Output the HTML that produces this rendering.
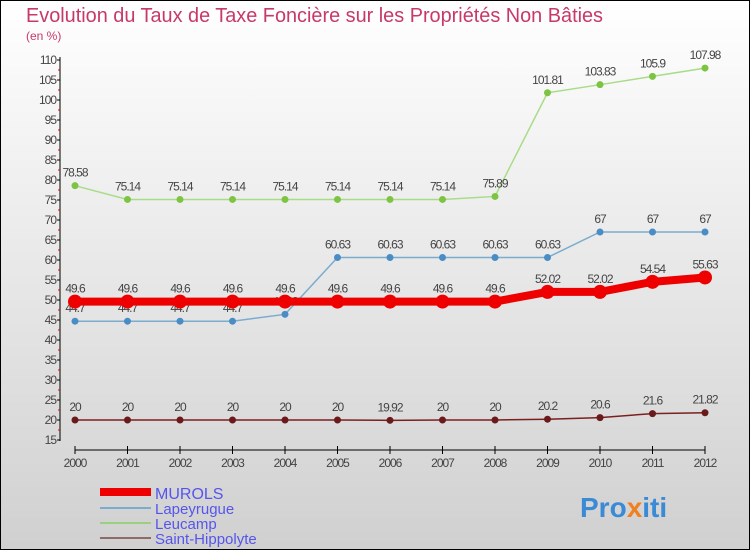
<!DOCTYPE html>
<html><head><meta charset="utf-8"><style>
body{margin:0}
svg{display:block;font-family:"Liberation Sans",sans-serif}
</style></head><body>
<svg id="c" width="750" height="550">
<defs><linearGradient id="bg" x1="0" y1="0" x2="0" y2="1"><stop offset="0" stop-color="#ffffff"/><stop offset="1" stop-color="#d0d0d0"/></linearGradient></defs>
<rect x="0.5" y="0.5" width="749" height="549" fill="url(#bg)" stroke="#000"/>
<text x="26" y="22" font-size="20" fill="#c8386a" textLength="577" lengthAdjust="spacingAndGlyphs">Evolution du Taux de Taxe Foncière sur les Propriétés Non Bâties</text>
<text x="26" y="40" font-size="12" fill="#c8386a">(en %)</text>
<g id="axes"></g><g id="series"></g>
<g>
<rect x="100" y="488" width="51" height="8" fill="#e00"/>
<text x="155" y="499" font-size="16" fill="#5555ee">MUROLS</text>
<line x1="100" y1="508" x2="151" y2="508" stroke="#7aaccf" stroke-width="2"/>
<text x="155" y="514" font-size="15" fill="#5555ee">Lapeyrugue</text>
<line x1="100" y1="523" x2="151" y2="523" stroke="#9dd07e" stroke-width="2"/>
<text x="155" y="529" font-size="15" fill="#5555ee">Leucamp</text>
<line x1="100" y1="538" x2="151" y2="538" stroke="#8e6a6a" stroke-width="2"/>
<text x="155" y="544" font-size="15" fill="#5555ee">Saint-Hippolyte</text>
</g>
<text x="580" y="517" font-size="28" font-weight="bold" fill="#3a8ad6">Pro<tspan fill="#f08020">x</tspan>iti</text>
</svg>
<script>
const years=["2000","2001","2002","2003","2004","2005","2006","2007","2008","2009","2010","2011","2012"];
const yTicks=[15,20,25,30,35,40,45,50,55,60,65,70,75,80,85,90,95,100,105,110];
const murols=[49.6,49.6,49.6,49.6,49.6,49.6,49.6,49.6,49.6,52.02,52.02,54.54,55.63];
const lapeyrugue=[44.7,44.7,44.7,44.7,46.42,60.63,60.63,60.63,60.63,60.63,67,67,67];
const leucamp=[78.58,75.14,75.14,75.14,75.14,75.14,75.14,75.14,75.89,101.81,103.83,105.9,107.98];
const saintHippolyte=[20,20,20,20,20,20,19.92,20,20,20.2,20.6,21.6,21.82];
const NS="http://www.w3.org/2000/svg";
const X=i=>75+i*52.5, Y=v=>300-(v-50)*4;
function mk(p,t,a){const e=document.createElementNS(NS,t);for(const k in a)e.setAttribute(k,a[k]);p.appendChild(e);return e;}
const ax=document.getElementById('axes'), se=document.getElementById('series');
let e=mk(ax,'line',{x1:60,y1:57,x2:60,y2:441,stroke:'#000'});


yTicks.forEach(v=>{
 let t=mk(ax,'line',{x1:57,x2:60,y1:Y(v),y2:Y(v),stroke:'#000'});
 
 
 if(v>yTicks[0]){
  let r=mk(ax,'line',{x1:58,x2:60,y1:Y(v)+10,y2:Y(v)+10,stroke:'#e00'});
  
  
 }
 let l=mk(ax,'text',{x:56,y:Y(v)+4,'font-size':12,fill:'#444','text-anchor':'end','letter-spacing':'-1'});
 l.textContent=v;
 
 
});
e=mk(ax,'line',{x1:75,y1:450,x2:705,y2:450,stroke:'#000'});


years.forEach((y,i)=>{
 let t=mk(ax,'line',{x1:X(i),x2:X(i),y1:446,y2:454,stroke:'#000'});
 
 
 let l=mk(ax,'text',{x:X(i),y:467,'font-size':12,fill:'#444','text-anchor':'middle','letter-spacing':'-1'});
 l.textContent=y;
 
 
});
function series(vals,name,line,dot,w,r){
 const g=mk(se,'g',{});
 
 
 const p=mk(g,'polyline',{points:vals.map((v,i)=>X(i)+','+Y(v)).join(' '),fill:'none',stroke:line,'stroke-width':w});
 
 
 vals.forEach((v,i)=>{
  const c=mk(g,'circle',{cx:X(i),cy:Y(v),r:r,fill:dot});
  
  
  const t=mk(g,'text',{x:X(i),y:Y(v)-9,'font-size':12,fill:'#444','text-anchor':'middle','letter-spacing':'-1'});
  t.textContent=String(v);
  
  
 });
}
series(saintHippolyte,'saint-hippolyte','#7a2020','#6a1a1a',1.5,3.5);
series(leucamp,'leucamp','#a8dc88','#7cc442',1.5,3.5);
series(lapeyrugue,'lapeyrugue','#7aaccf','#4a8cc4',1.5,3.5);
series(murols,'murols','#ee0000','#ee0000',8,7);
</script>
</body></html>
